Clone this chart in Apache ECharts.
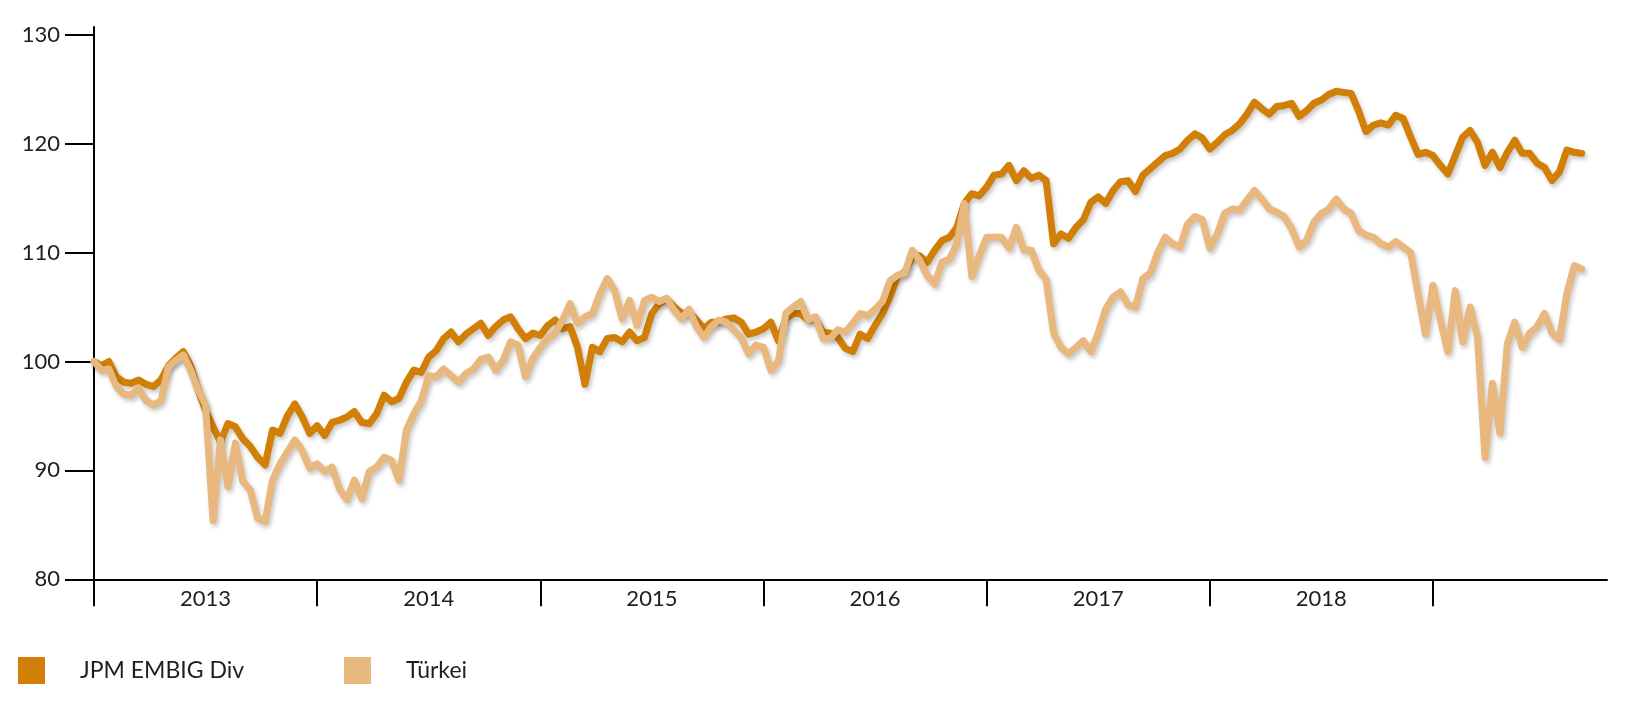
<!DOCTYPE html>
<html><head><meta charset="utf-8">
<script src="https://cdn.jsdelivr.net/npm/echarts@6/dist/echarts.min.js"></script>
<style>html,body{margin:0;padding:0;background:#fff}#c{width:1645px;height:708px}</style>
</head><body><div id="c"></div>
<script>
const years = ['2013','2014','2015','2016','2017','2018'];
const yTicks = [80, 90, 100, 110, 120, 130];
const yearTicks = [0, 1, 2, 3, 4, 5, 6];
const stepYears = 1 / 30;
const seriesNames = ['JPM EMBIG Div', 'Türkei'];
const jpm = [
100,99.6,100,98.6,98.1,98.0,98.3,97.9,97.7,98.3,
99.6,100.3,100.9,99.6,97.4,95.5,94.0,92.6,94.3,94.0,
92.9,92.2,91.2,90.5,93.7,93.4,95.0,96.1,94.9,93.4,
94.1,93.2,94.4,94.6,94.9,95.4,94.4,94.3,95.2,96.9,
96.3,96.6,98.1,99.2,99.0,100.4,101.0,102.1,102.7,101.8,
102.5,103.0,103.5,102.4,103.2,103.8,104.1,103.0,102.1,102.6,
102.4,103.3,103.8,103.0,103.2,101.3,97.9,101.3,100.9,102.1,
102.2,101.8,102.7,101.9,102.2,104.4,105.3,105.7,105.0,104.4,
104.5,103.8,103.0,103.6,103.6,103.9,104.0,103.6,102.5,102.7,
103.0,103.6,101.9,103.9,104.4,104.4,103.8,103.9,102.7,102.6,
102.2,101.2,100.9,102.5,102.1,103.3,104.4,105.9,107.8,108.2,
109.6,109.7,109.1,110.2,111.1,111.4,112.3,114.5,115.4,115.2,
116.0,117.1,117.2,118.0,116.6,117.5,116.8,117.1,116.6,110.8,
111.7,111.3,112.3,113.0,114.6,115.1,114.5,115.7,116.5,116.6,
115.6,117.1,117.7,118.3,118.9,119.1,119.5,120.3,120.9,120.5,
119.5,120.1,120.8,121.2,121.8,122.7,123.8,123.2,122.7,123.4,
123.5,123.7,122.5,123.0,123.7,124.0,124.5,124.8,124.7,124.6,
123.0,121.1,121.7,121.9,121.7,122.6,122.3,120.6,119.0,119.2,
118.9,118.0,117.2,118.9,120.6,121.2,120.1,118.0,119.2,117.8,
119.2,120.3,119.1,119.1,118.2,117.8,116.6,117.4,119.4,119.2,
119.1
];
const turkei = [
100,99.2,99.3,97.7,97.0,96.9,97.5,96.4,96.0,96.4,
99.5,100.1,100.6,99.2,97.4,96.0,85.4,92.8,88.5,92.5,
89.0,88.2,85.6,85.3,89.1,90.6,91.7,92.8,91.8,90.2,
90.6,89.9,90.3,88.3,87.3,89.1,87.4,89.9,90.3,91.2,
90.9,89.1,93.7,95.2,96.4,98.7,98.6,99.3,98.7,98.1,
98.9,99.3,100.2,100.4,99.2,100.1,101.8,101.5,98.6,100.3,
101.3,102.1,102.6,103.8,105.3,103.5,104.1,104.4,106.2,107.6,
106.5,103.9,105.6,103.3,105.6,105.9,105.5,105.8,104.7,103.9,
104.8,103.2,102.2,103.2,103.8,103.6,102.9,102.2,100.7,101.5,
101.3,99.2,100.0,104.4,105.0,105.5,103.8,104.1,102.1,102.1,
102.9,102.7,103.5,104.4,104.2,104.8,105.5,107.4,107.9,108.1,
110.2,109.3,107.9,107.1,109.1,109.4,110.8,114.5,107.8,109.7,
111.4,111.4,111.4,110.4,112.3,110.2,110.2,108.4,107.5,102.6,
101.3,100.7,101.3,101.9,100.9,102.6,104.8,105.9,106.4,105.2,
105.0,107.6,108.1,110.0,111.4,110.8,110.5,112.6,113.3,113.0,
110.4,111.7,113.6,114.0,113.9,114.8,115.7,114.9,114.0,113.7,
113.3,112.2,110.5,111.1,112.8,113.6,114.0,114.9,114.0,113.6,
112.0,111.6,111.4,110.8,110.5,111.0,110.5,110.0,106.2,102.5,
107.0,103.8,100.9,106.5,101.8,105.0,102.2,91.2,98.0,93.4,
101.6,103.6,101.3,102.6,103.2,104.4,102.6,102.0,106.2,108.8,
108.5
];
const colors = ['#D17F06', '#E8B87E'];
const font = 'Lato, "Noto Sans", sans-serif';
const txt = '#1e1e1e';

const toPairs = arr => arr.map((v, i) => [i * stepYears, v]);

const chart = echarts.init(document.getElementById('c'), null, {renderer: 'canvas'});
const lineSeries = (name, data, color) => ({
  name: name, type: 'line', data: toPairs(data), showSymbol: false, symbol: 'none',
  itemStyle: {color: color},
  lineStyle: {color: color, width: 7, join: 'round', cap: 'round',
    shadowColor: 'rgba(0,0,0,0.22)', shadowBlur: 4, shadowOffsetX: 2, shadowOffsetY: 3},
  emphasis: {disabled: true}
});
const legendBase = {
  top: 657, padding: 0, itemWidth: 27, itemHeight: 27, icon: 'rect', orient: 'horizontal',
  textStyle: {fontSize: 23, color: txt, fontFamily: font, padding: [0, 0, 0, 30]}
};
chart.setOption({
  animation: false,
  backgroundColor: '#fff',
  grid: {left: 94, right: 38, top: 27, bottom: 128.7, containLabel: false},
  xAxis: {
    type: 'value', min: 0, max: 6.78,
    axisLine: {show: true, lineStyle: {color: '#000', width: 2}},
    axisTick: {show: true, customValues: yearTicks, length: 27, lineStyle: {color: '#000', width: 2}},
    axisLabel: {customValues: years.map((y, i) => i + 0.5), formatter: v => years[Math.floor(v)],
      margin: 9, color: txt, fontSize: 22, fontFamily: font},
    splitLine: {show: false}
  },
  yAxis: {
    type: 'value', min: 80, max: 130.7,
    axisLine: {show: true, lineStyle: {color: '#000', width: 2}},
    axisTick: {show: true, customValues: yTicks, length: 29, lineStyle: {color: '#000', width: 2}},
    axisLabel: {customValues: yTicks, margin: 34, color: txt, fontSize: 22, fontFamily: font},
    splitLine: {show: false}
  },
  legend: [
    Object.assign({}, legendBase, {left: 18, data: [seriesNames[0]]}),
    Object.assign({}, legendBase, {left: 344, data: [seriesNames[1]]})
  ],
  series: [
    lineSeries(seriesNames[0], jpm, colors[0]),
    lineSeries(seriesNames[1], turkei, colors[1])
  ]
});
</script></body></html>
